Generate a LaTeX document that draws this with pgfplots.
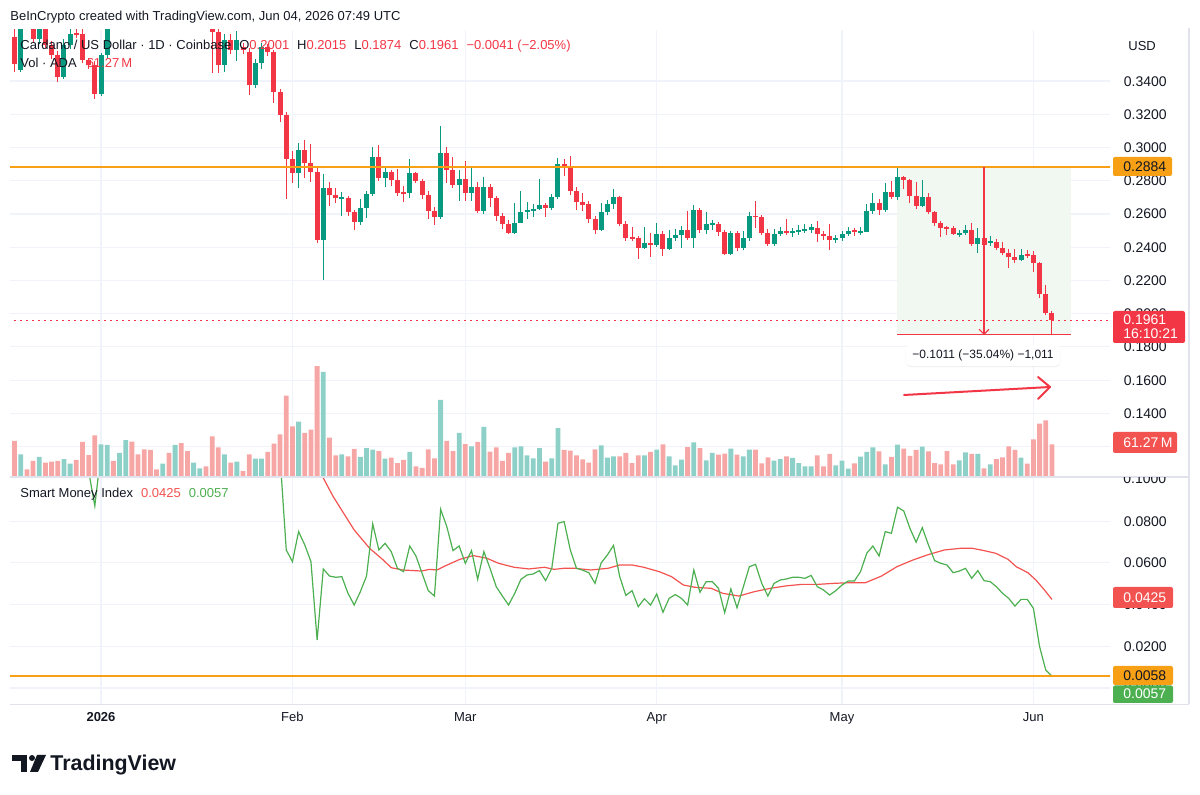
\documentclass[border=0pt]{standalone}
\usepackage{fontspec}
\setmainfont{Liberation Sans}
\usepackage{pgfplots}
\pgfplotsset{compat=1.18}
\usepackage{pgfplotstable}
\usetikzlibrary{shadows}

\definecolor{tvgreen}{RGB}{8,153,129}
\definecolor{tvred}{RGB}{242,54,69}
\definecolor{volgreen}{RGB}{141,208,199}
\definecolor{volred}{RGB}{247,166,166}
\definecolor{gridc}{RGB}{240,243,250}
\definecolor{sepc}{RGB}{224,227,235}
\definecolor{txt}{RGB}{19,23,34}
\definecolor{tvorange}{RGB}{247,160,22}
\definecolor{smigreen}{RGB}{76,175,80}
\definecolor{smired}{RGB}{242,83,80}
\definecolor{measfill}{RGB}{241,248,241}

\newcommand{\fs}[1]{\fontsize{#1pt}{#1pt}\selectfont}

% d o h l c v  (up candles: close >= open)
\pgfplotstableread{
d o h l c v
-13 0.3467 0.3780 0.3455 0.3720 42.5
-10 0.3653 0.3760 0.3620 0.3720 37.5
-6 0.3425 0.3650 0.3410 0.3617 33.7
-5 0.3617 0.3710 0.3590 0.3683 25.0
0 0.3323 0.3570 0.3310 0.3557 61.2
1 0.3557 0.3800 0.3540 0.3750 60.0
3 0.3760 0.4000 0.3740 0.3950 45.0
4 0.3950 0.4200 0.3920 0.4150 69.3
10 0.3800 0.3920 0.3780 0.3890 25.0
12 0.3850 0.3980 0.3830 0.3940 60.0
15 0.3800 0.3900 0.3770 0.3870 26.9
16 0.3870 0.3950 0.3840 0.3910 16.2
20 0.3497 0.3680 0.3455 0.3647 42.5
22 0.3587 0.3700 0.3521 0.3647 28.7
25 0.3377 0.3530 0.3360 0.3509 34.4
26 0.3509 0.3630 0.3470 0.3605 34.4
32 0.2844 0.3024 0.2754 0.2982 103.7
36 0.2443 0.2838 0.2203 0.2754 196.8
39 0.2694 0.2730 0.2587 0.2700 42.5
42 0.2551 0.2689 0.2533 0.2635 37.5
43 0.2635 0.2736 0.2575 0.2718 54.3
44 0.2718 0.3000 0.2706 0.2940 51.2
46 0.2814 0.2880 0.2760 0.2850 34.4
50 0.2724 0.2928 0.2694 0.2844 46.9
55 0.2581 0.3132 0.2569 0.2964 144.3
58 0.2772 0.2862 0.2677 0.2808 82.5
60 0.2724 0.2880 0.2677 0.2760 57.5
62 0.2617 0.2820 0.2599 0.2760 93.7
67 0.2485 0.2665 0.2479 0.2545 55.6
68 0.2545 0.2736 0.2545 0.2611 57.5
69 0.2611 0.2671 0.2569 0.2623 40.6
70 0.2623 0.2659 0.2581 0.2629 35.0
71 0.2629 0.2808 0.2623 0.2653 54.3
73 0.2635 0.2718 0.2623 0.2701 35.0
74 0.2701 0.2934 0.2689 0.2898 91.8
81 0.2503 0.2665 0.2497 0.2611 59.3
82 0.2611 0.2683 0.2593 0.2659 36.2
83 0.2659 0.2748 0.2629 0.2701 38.7
88 0.2395 0.2521 0.2389 0.2425 40.6
90 0.2413 0.2545 0.2401 0.2479 51.2
92 0.2389 0.2503 0.2383 0.2455 38.7
93 0.2455 0.2509 0.2437 0.2473 21.9
94 0.2473 0.2527 0.2395 0.2503 32.5
96 0.2455 0.2653 0.2395 0.2623 65.0
98 0.2503 0.2611 0.2479 0.2539 31.2
99 0.2539 0.2563 0.2503 0.2545 45.0
102 0.2359 0.2497 0.2353 0.2485 53.1
104 0.2395 0.2497 0.2383 0.2455 38.7
105 0.2455 0.2611 0.2437 0.2587 51.2
109 0.2419 0.2509 0.2407 0.2479 30.6
110 0.2479 0.2521 0.2467 0.2497 33.7
112 0.2485 0.2515 0.2461 0.2497 35.6
113 0.2497 0.2533 0.2473 0.2503 26.2
114 0.2503 0.2539 0.2485 0.2506 20.0
115 0.2503 0.2539 0.2485 0.2521 20.0
119 0.2443 0.2473 0.2425 0.2455 21.9
120 0.2455 0.2497 0.2437 0.2479 30.6
121 0.2479 0.2521 0.2467 0.2497 15.6
123 0.2491 0.2521 0.2473 0.2497 38.1
124 0.2491 0.2659 0.2491 0.2617 46.9
125 0.2617 0.2725 0.2599 0.2665 55.6
127 0.2623 0.2784 0.2611 0.2730 23.7
129 0.2700 0.2884 0.2682 0.2820 60.6
133 0.2647 0.2802 0.2641 0.2700 56.8
139 0.2479 0.2503 0.2461 0.2485 31.2
140 0.2485 0.2533 0.2473 0.2503 46.2
142 0.2419 0.2515 0.2365 0.2455 43.1
144 0.2425 0.2467 0.2407 0.2437 23.7
149 0.2323 0.2389 0.2317 0.2353 36.2
}\upc

% down candles: close < open
\pgfplotstableread{
d o h l c v
-14 0.3665 0.3750 0.3455 0.3503 67.5
-12 0.3770 0.3810 0.3715 0.3740 14.4
-11 0.3750 0.3780 0.3630 0.3653 30.0
-9 0.3730 0.3760 0.3600 0.3617 26.9
-8 0.3617 0.3640 0.3530 0.3557 28.7
-7 0.3557 0.3580 0.3395 0.3425 30.0
-4 0.3690 0.3720 0.3660 0.3680 31.9
-3 0.3683 0.3710 0.3510 0.3527 65.6
-2 0.3527 0.3540 0.3470 0.3497 41.2
-1 0.3497 0.3520 0.3293 0.3323 78.1
2 0.3800 0.3900 0.3730 0.3760 30.0
5 0.4150 0.4200 0.3980 0.4020 66.2
6 0.4020 0.4080 0.3920 0.3950 42.5
7 0.3950 0.4000 0.3850 0.3880 51.9
8 0.3880 0.3920 0.3800 0.3830 50.6
9 0.3830 0.3870 0.3780 0.3800 14.4
11 0.3890 0.3930 0.3820 0.3850 45.0
13 0.3940 0.3960 0.3840 0.3860 63.7
14 0.3860 0.3900 0.3760 0.3800 48.7
17 0.3910 0.3930 0.3730 0.3760 20.0
18 0.3720 0.3760 0.3449 0.3695 76.2
19 0.3695 0.3720 0.3449 0.3497 55.6
21 0.3647 0.3680 0.3560 0.3587 26.9
23 0.3605 0.3630 0.3560 0.3587 11.2
24 0.3575 0.3600 0.3317 0.3377 42.5
27 0.3605 0.3625 0.3550 0.3575 46.9
28 0.3575 0.3587 0.3270 0.3335 62.5
29 0.3335 0.3350 0.3156 0.3198 80.0
30 0.3198 0.3215 0.2689 0.2928 152.4
31 0.2928 0.2976 0.2784 0.2844 95.0
33 0.2982 0.3042 0.2814 0.2904 82.5
34 0.2904 0.3018 0.2790 0.2850 88.7
35 0.2850 0.2886 0.2425 0.2443 208.0
37 0.2754 0.2790 0.2647 0.2712 73.7
38 0.2712 0.2754 0.2665 0.2694 40.6
40 0.2694 0.2706 0.2587 0.2611 38.7
41 0.2611 0.2625 0.2503 0.2551 52.5
45 0.2940 0.3012 0.2796 0.2814 48.7
47 0.2850 0.2862 0.2766 0.2802 36.2
48 0.2802 0.2868 0.2706 0.2724 26.2
49 0.2730 0.2766 0.2670 0.2724 31.9
51 0.2844 0.2850 0.2784 0.2796 20.0
52 0.2796 0.2810 0.2688 0.2712 16.9
53 0.2712 0.2736 0.2569 0.2617 51.9
54 0.2617 0.2641 0.2533 0.2581 35.0
56 0.2964 0.3000 0.2784 0.2862 67.5
57 0.2862 0.2940 0.2754 0.2772 48.7
59 0.2808 0.2916 0.2677 0.2724 61.8
61 0.2760 0.2790 0.2605 0.2617 65.6
63 0.2760 0.2778 0.2641 0.2694 47.5
64 0.2694 0.2706 0.2557 0.2587 55.6
65 0.2587 0.2605 0.2509 0.2539 30.0
66 0.2539 0.2563 0.2479 0.2485 45.0
72 0.2653 0.2665 0.2581 0.2635 28.7
75 0.2898 0.2928 0.2826 0.2880 50.6
76 0.2880 0.2946 0.2712 0.2736 49.4
77 0.2736 0.2760 0.2623 0.2671 40.6
78 0.2671 0.2725 0.2617 0.2653 33.1
79 0.2659 0.2677 0.2545 0.2569 26.9
80 0.2569 0.2587 0.2479 0.2503 51.9
84 0.2701 0.2710 0.2527 0.2539 38.7
85 0.2539 0.2557 0.2437 0.2455 45.0
86 0.2461 0.2521 0.2437 0.2455 26.2
87 0.2455 0.2467 0.2329 0.2395 40.6
89 0.2425 0.2485 0.2341 0.2413 46.9
91 0.2479 0.2497 0.2347 0.2389 61.2
95 0.2503 0.2617 0.2443 0.2455 56.2
97 0.2623 0.2635 0.2485 0.2503 54.3
100 0.2539 0.2551 0.2467 0.2491 41.9
101 0.2491 0.2503 0.2353 0.2359 43.7
103 0.2485 0.2497 0.2377 0.2395 41.9
106 0.2590 0.2677 0.2517 0.2584 51.2
107 0.2581 0.2593 0.2473 0.2485 25.6
108 0.2485 0.2509 0.2407 0.2419 36.9
111 0.2497 0.2569 0.2473 0.2485 38.7
116 0.2515 0.2557 0.2431 0.2479 40.6
117 0.2479 0.2497 0.2443 0.2467 20.0
118 0.2467 0.2539 0.2383 0.2443 43.1
122 0.2503 0.2515 0.2467 0.2491 25.6
126 0.2665 0.2689 0.2593 0.2623 48.1
128 0.2730 0.2796 0.2688 0.2700 37.5
130 0.2820 0.2826 0.2748 0.2802 53.1
131 0.2802 0.2808 0.2664 0.2706 39.4
132 0.2706 0.2790 0.2629 0.2647 50.6
134 0.2700 0.2724 0.2599 0.2611 48.1
135 0.2611 0.2617 0.2527 0.2545 26.2
136 0.2545 0.2557 0.2461 0.2515 23.7
137 0.2521 0.2527 0.2473 0.2515 48.7
138 0.2515 0.2527 0.2473 0.2479 23.7
141 0.2503 0.2545 0.2407 0.2419 43.1
143 0.2455 0.2479 0.2407 0.2413 16.2
145 0.2431 0.2449 0.2383 0.2395 33.7
146 0.2395 0.2431 0.2353 0.2365 36.9
147 0.2365 0.2389 0.2275 0.2341 57.5
148 0.2341 0.2389 0.2305 0.2323 50.6
150 0.2356 0.2383 0.2335 0.2353 25.0
151 0.2353 0.2377 0.2251 0.2305 70.6
152 0.2305 0.2311 0.2096 0.2120 100.0
153 0.2120 0.2174 0.1994 0.2001 106.2
154 0.2001 0.2015 0.1874 0.1961 61.2
}\downc

% Smart Money Index
\pgfplotstableread{
d v
-14 0.138
-12 0.134
-10 0.130
-8 0.127
-6 0.122
-4 0.117
-3 0.112
-2 0.104
-1 0.0873
0 0.113
1 0.121
3 0.130
6 0.138
9 0.142
12 0.145
15 0.140
18 0.136
21 0.131
24 0.127
27 0.122
28 0.125
29 0.111
30 0.0662
31 0.0606
32 0.0750
33 0.0686
34 0.0606
35 0.0230
36 0.0571
37 0.0537
38 0.0531
39 0.0534
40 0.0454
41 0.0398
42 0.0462
43 0.0537
44 0.0787
45 0.0662
46 0.0694
47 0.0654
48 0.0574
49 0.0558
50 0.0681
51 0.0633
52 0.0550
53 0.0467
54 0.0441
55 0.0857
56 0.0774
57 0.0659
58 0.0681
59 0.0598
60 0.0659
61 0.0521
62 0.0654
63 0.0574
64 0.0486
65 0.0441
66 0.0398
67 0.0454
68 0.0521
69 0.0542
70 0.0547
71 0.0563
72 0.0515
73 0.0574
74 0.0790
75 0.0798
76 0.0662
77 0.0574
78 0.0565
79 0.0553
80 0.0502
81 0.0600
82 0.0638
83 0.0684
84 0.0534
85 0.0444
86 0.0467
87 0.0390
88 0.0428
89 0.0398
90 0.0451
91 0.0363
92 0.0430
93 0.0448
94 0.0430
95 0.0398
96 0.0566
97 0.0459
98 0.0510
99 0.0510
100 0.0478
101 0.0361
102 0.0475
103 0.0385
104 0.0483
105 0.0582
106 0.0593
107 0.0502
108 0.0441
109 0.0502
110 0.0518
111 0.0523
112 0.0531
113 0.0531
114 0.0526
115 0.0540
116 0.0486
117 0.0470
118 0.0446
119 0.0467
120 0.0494
121 0.0513
122 0.0513
123 0.0558
124 0.0646
125 0.0681
126 0.0633
127 0.0750
128 0.0742
129 0.0867
130 0.0849
131 0.0766
132 0.0699
133 0.0769
134 0.0686
135 0.0611
136 0.0598
137 0.0590
138 0.0553
139 0.0561
140 0.0574
141 0.0526
142 0.0563
143 0.0515
144 0.0510
145 0.0486
146 0.0454
147 0.0430
148 0.0393
149 0.0425
150 0.0425
151 0.0382
152 0.0198
153 0.0086
154 0.0057
}\smi

% SMI signal line
\pgfplotstableread{
d v
28 0.140
31 0.128
33 0.118
35.3 0.1046
37.6 0.0918
41.0 0.0758
43.5 0.0670
45.7 0.0614
47.0 0.0577
48.8 0.0566
51.9 0.0561
53.2 0.0569
54.4 0.0566
55.7 0.0585
58.1 0.0617
60.3 0.0635
62.5 0.0622
64.4 0.0598
66.9 0.0579
69.3 0.0571
71.8 0.0579
73.4 0.0569
74.9 0.0574
76.8 0.0574
79.3 0.0566
82.1 0.0574
84.0 0.0590
86.0 0.0590
87.9 0.0579
90.4 0.0558
92.4 0.0534
94.3 0.0494
96.2 0.0483
98.8 0.0478
100.7 0.0454
103.3 0.0441
105.8 0.0462
108.4 0.0478
111.0 0.0490
113.5 0.0497
116.1 0.0497
118.7 0.0502
121.2 0.0505
123.8 0.0505
126.4 0.0537
128.9 0.0582
131.5 0.0614
134.1 0.0641
136.6 0.0662
139.2 0.0670
141.1 0.0670
143.0 0.0659
144.9 0.0646
146.9 0.0617
148.2 0.0582
150.1 0.0553
151.4 0.0518
152.7 0.0473
154.0 0.0425
}\smima

\pgfplotsset{
  tvpane/.style={
    scale only axis, width=550pt,
    xmin=-14.737, xmax=163.4,
    axis line style={draw=none},
    major tick length=0pt,
    xtick={0,31,59,90,120,151},
    yticklabel pos=right,
    grid=major, major grid style={draw=gridc, line width=0.6pt},
    scaled y ticks=false,
    y tick label style={/pgf/number format/fixed, /pgf/number format/fixed zerofill, /pgf/number format/precision=4, /pgf/number format/assume math mode=true},
    yticklabel style={font=\fs{7}, text=txt, anchor=base west, inner sep=0pt, xshift=6.75pt, yshift=-2.5pt},
  },
  wick/.style={only marks, mark=*, mark size=0pt, mark options={draw=none, fill=none}, forget plot, error bars/.cd, y dir=both, y explicit, error mark=none, error bar style={#1, line width=0.5pt}},
  body/.style={only marks, mark=*, mark size=0pt, mark options={draw=none, fill=none}, forget plot, error bars/.cd, y dir=both, y explicit, error mark=none, error bar style={#1, line width=2.5pt}},
}

\begin{document}
\begin{tikzpicture}[x=0.5pt, y=-0.5pt]
\path[use as bounding box] (0,0) rectangle (1200,795);

% ---------- price pane ----------
\begin{axis}[tvpane, at={(5pt,-238.5pt)}, anchor=south west, height=223.5pt,
  ymin=0.1017, ymax=0.3707,
  ytick={0.12,0.14,0.16,0.18,0.20,0.22,0.24,0.26,0.28,0.30,0.32,0.34},
  xticklabels={}]
\fill[measfill] (axis cs:128.9,0.2884) rectangle (axis cs:157.1,0.1873);
\addplot[wick=tvgreen] table[x=d, y expr={(\thisrow{h}+\thisrow{l})/2}, y error expr={(\thisrow{h}-\thisrow{l})/2}]{\upc};
\addplot[wick=tvred] table[x=d, y expr={(\thisrow{h}+\thisrow{l})/2}, y error expr={(\thisrow{h}-\thisrow{l})/2}]{\downc};
\addplot[body=tvgreen] table[x=d, y expr={(\thisrow{o}+\thisrow{c})/2}, y error expr={max(abs(\thisrow{c}-\thisrow{o})/2,0.0003)}]{\upc};
\addplot[body=tvred] table[x=d, y expr={(\thisrow{o}+\thisrow{c})/2}, y error expr={max(abs(\thisrow{c}-\thisrow{o})/2,0.0003)}]{\downc};
\draw[tvorange, line width=1pt] (axis cs:-20,0.2884) -- (axis cs:170,0.2884);
\draw[tvred, line width=0.6pt, dash pattern=on 1pt off 2pt] (axis cs:-20,0.1961) -- (axis cs:170,0.1961);
\draw[tvred, line width=0.55pt] (axis cs:128.9,0.1873) -- (axis cs:157.1,0.1873);
\draw[tvred, line width=0.55pt] (axis cs:143,0.2884) -- (axis cs:143,0.1876);
\draw[tvred, line width=0.55pt] (axis cs:142.2,0.1906) -- (axis cs:143,0.1876) -- (axis cs:143.8,0.1906);
\end{axis}

% ---------- volume ----------
\begin{axis}[scale only axis, width=550pt, height=223.5pt, at={(5pt,-238.5pt)}, anchor=south west,
  xmin=-14.737, xmax=163.4, ymin=0, ymax=837.7, hide axis]
\addplot[ybar, bar width=2.4pt, bar shift=0pt, fill=volgreen, draw=none] table[x=d,y=v]{\upc};
\addplot[ybar, bar width=2.4pt, bar shift=0pt, fill=volred, draw=none] table[x=d,y=v]{\downc};
\end{axis}

% ---------- SMI pane ----------
\begin{axis}[tvpane, at={(5pt,-352pt)}, anchor=south west, height=113.5pt,
  ymin=-0.00767, ymax=0.1012,
  ytick={0,0.02,0.04,0.06,0.08},
  xticklabels={{\textbf{2026}},Feb,Mar,Apr,May,Jun},
  xticklabel style={font=\fs{6.5}, text=txt, anchor=base, inner sep=0pt, yshift=-8.85pt}]
\addplot[smired, line width=0.6pt, mark=none] table[x=d,y=v]{\smima};
\addplot[smigreen, line width=0.6pt, mark=none] table[x=d,y=v]{\smi};
\draw[tvorange, line width=1pt] (axis cs:-20,0.0058) -- (axis cs:170,0.0058);
\end{axis}

% ---------- frame lines ----------
\draw[sepc, line width=0.6pt] (10,477) -- (1189,477);
\draw[sepc, line width=0.6pt] (10,704.5) -- (1189,704.5);
\draw[sepc, line width=0.6pt] (1189,28) -- (1189,704.5);

\begin{scope}
\clip (1112,478) rectangle (1188,500);
\node[anchor=base west, inner sep=0pt, font=\fs{7}, text=txt] at (1123,484) {0.1000};
\end{scope}

% ---------- header & legends ----------
\node[anchor=base west, inner sep=0pt, font=\fs{6.5}, text=txt] at (10,20.5) {BeInCrypto created with TradingView.com, Jun 04, 2026 07:49 UTC};
\node[anchor=base west, inner sep=0pt, font=\fs{6.5}, text=txt] at (20,49.5) {Cardano / US Dollar · 1D · Coinbase\hspace{4pt}O\textcolor{tvred}{0.2001}\hspace{4pt}H\textcolor{tvred}{0.2015}\hspace{4pt}L\textcolor{tvred}{0.1874}\hspace{4pt}C\textcolor{tvred}{0.1961}\hspace{4pt}\textcolor{tvred}{−0.0041 (−2.05\%)}};
\node[anchor=base west, inner sep=0pt, font=\fs{6.5}, text=txt] at (20,67.5) {Vol · ADA\hspace{5pt}\textcolor{tvred}{61.27\,M}};
\node[anchor=base west, inner sep=0pt, font=\fs{6.5}, text=txt] at (1128,50.5) {USD};
\node[anchor=base west, inner sep=0pt, font=\fs{6.5}, text=txt] at (20,497.5) {Smart Money Index\hspace{4pt}\textcolor{smired}{0.0425}\hspace{4pt}\textcolor{smigreen}{0.0057}};

% ---------- measure label ----------
\node[fill=white, rounded corners=2.5pt, drop shadow={shadow xshift=0pt, shadow yshift=-0.6pt, opacity=0.12}, font=\fs{6}, text=txt, inner xsep=3.3pt, inner ysep=0pt, minimum height=11pt] at (983,355) {−0.1011 (−35.04\%) −1,011};

% ---------- hand-drawn arrow ----------
\draw[tvred, line width=1pt, line cap=round] (904,395) -- (1050,387);
\draw[tvred, line width=1pt, line cap=round, line join=round] (1038,377) -- (1050,387) -- (1038,399);

% ---------- price scale labels ----------
\fill[tvorange, rounded corners=1pt] (1113,157) rectangle (1172,176);
\node[anchor=base west, inner sep=0pt, font=\fs{7}, text=txt] at (1123,171.5) {0.2884};
\fill[tvred, rounded corners=1pt] (1113,311) rectangle (1185,343);
\node[anchor=base west, inner sep=0pt, font=\fs{7}, text=white] at (1123,325) {0.1961};
\node[anchor=base west, inner sep=0pt, font=\fs{7}, text=white] at (1123,339) {16:10:21};
\fill[smired, rounded corners=1pt] (1113,432) rectangle (1177,453);
\node[anchor=base west, inner sep=0pt, font=\fs{7}, text=white] at (1123,447.5) {61.27\,M};
\fill[smired, rounded corners=1pt] (1113,587) rectangle (1173,608);
\node[anchor=base west, inner sep=0pt, font=\fs{7}, text=white] at (1123,602.5) {0.0425};
\fill[tvorange, rounded corners=1pt] (1113,666) rectangle (1173,685);
\node[anchor=base west, inner sep=0pt, font=\fs{7}, text=txt] at (1123,680.5) {0.0058};
\fill[smigreen, rounded corners=1pt] (1113,685.5) rectangle (1173,703);
\node[anchor=base west, inner sep=0pt, font=\fs{7}, text=white] at (1123,699) {0.0057};

% ---------- TradingView logo ----------
\fill[txt] (12,755) rectangle (27,761);
\fill[txt] (21,755) rectangle (27,772);
\fill[txt] (32,758) circle (3);
\fill[txt] (37,755) -- (46,755) -- (38,772) -- (30,772) -- cycle;
\node[anchor=base west, inner sep=0pt, font=\fs{10.7}\bfseries, text=txt] at (50,770.5) {TradingView};
\end{tikzpicture}
\end{document}
